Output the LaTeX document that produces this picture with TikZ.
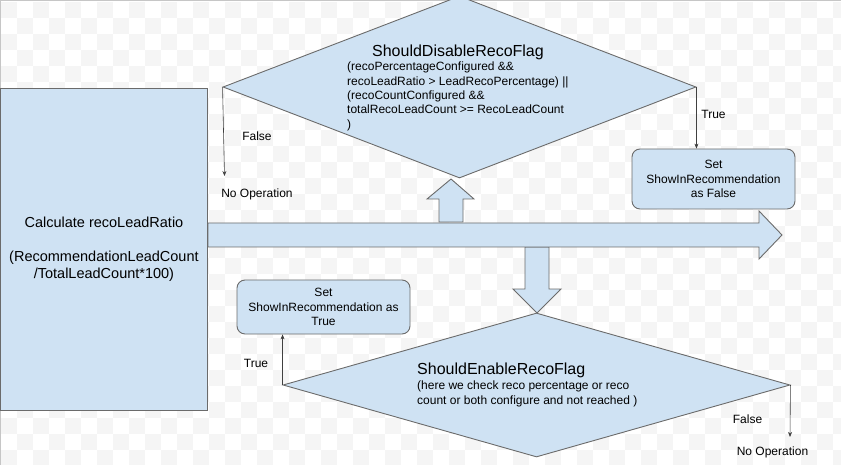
\documentclass[tikz,border=0pt]{standalone}
\usepackage{fontspec}
\setmainfont{Liberation Sans}
\usetikzlibrary{shapes.geometric,arrows.meta,positioning}
\definecolor{boxblue}{HTML}{CFE2F3}
\definecolor{edge}{HTML}{6B6B6B}
\definecolor{chk}{HTML}{F5F5F5}
\tikzset{
shp/.style={draw=edge,fill=boxblue,line width=0.9pt},
dia/.style={shp,diamond,inner sep=0pt},
rbox/.style={shp,rounded corners=8pt,align=center,font=\fontsize{12}{14.5}\selectfont},
lbl/.style={font=\fontsize{12}{14}\selectfont},
body/.style={anchor=north west,align=left,inner sep=0pt,font=\fontsize{12}{14.3}\selectfont},
flow/.style={draw=black!75,line width=0.6pt,-{Stealth[length=5pt,width=4pt]}}
}
\begin{document}
\begin{tikzpicture}[x=1pt,y=-1pt]
\useasboundingbox (0,0) rectangle (841,465);
\foreach \i in {0,...,52} {\pgfmathtruncatemacro\off{mod(\i,2)}
\foreach \j in {0,2,...,28} \fill[chk] (1+16*\i,{2+16*(\j+\off)}) rectangle ++(16,16);}
\draw[gray!45] (0,0.5) -- (841,0.5);
\draw[gray!45] (0.5,0) -- (0.5,465);
\node[shp,anchor=north west,minimum width=207pt,minimum height=322pt,align=center,font=\fontsize{14.5}{17}\selectfont] (calc) at (0,88) {Calculate recoLeadRatio\\[17pt](RecommendationLeadCount\\/TotalLeadCount*100)};
\draw[shp] (439,222) -- (439,199) -- (427,199) -- (451,179) -- (474,199) -- (463,199) -- (463,222) -- cycle;
\draw[shp] (525,247) -- (525,289) -- (513,289) -- (537,313) -- (561,289) -- (549,289) -- (549,247) -- cycle;
\draw[shp] (208,223) -- (759,223) -- (759,211) -- (782,235) -- (759,259) -- (759,247) -- (208,247) -- cycle;
\node[dia,minimum width=473pt,minimum height=182pt] (dis) at (459.5,87) {};
\node[font=\fontsize{16}{18}\selectfont] (disT) at (458,52) {ShouldDisableRecoFlag};
\node[body] (disB) at (347,62) {(recoPercentageConfigured \&\&\\recoLeadRatio > LeadRecoPercentage) ||\\(recoCountConfigured \&\&\\totalRecoLeadCount >= RecoLeadCount\\)};
\node[dia,minimum width=507pt,minimum height=144pt] (en) at (536.5,385) {};
\node[anchor=west,inner sep=0pt,font=\fontsize{16}{18}\selectfont] (enT) at (417,370) {ShouldEnableRecoFlag};
\node[body] (enB) at (417,381) {(here we check reco percentage or reco\\count or both configure and not reached )};
\node[rbox,minimum width=163pt,minimum height=60pt] (setF) at (713.5,179) {Set\\ShowInRecommendation\\as False};
\node[rbox,minimum width=173pt,minimum height=54pt] (setT) at (323.5,307) {Set\\ShowInRecommendation as\\True};
\coordinate (f1) at (224.5,176);
\coordinate (f2) at (790,437);
\draw[flow] (dis.west) -- (f1);
\draw[flow] (dis.east) -- (dis.east |- setF.north);
\draw[flow] (en.west) -- (en.west |- setT.south);
\draw[flow] (en.east) -- (f2);
\node[lbl] (fls1) at (257,136) {False};
\node[lbl] (no1) at (257,194) {No Operation};
\node[lbl] (tr1) at (713.5,114) {True};
\node[lbl] (tr2) at (256,363) {True};
\node[lbl] (fls2) at (747.5,419) {False};
\node[lbl] (no2) at (772.5,452) {No Operation};
\end{tikzpicture}
\end{document}
